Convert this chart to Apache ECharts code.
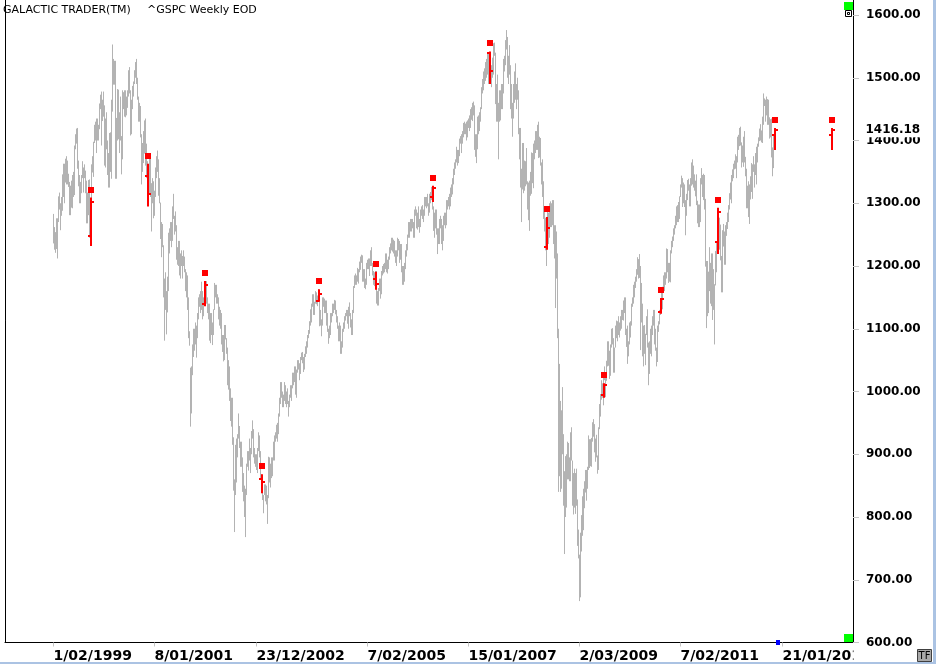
<!DOCTYPE html>
<html><head><meta charset="utf-8">
<script src="https://cdn.jsdelivr.net/npm/echarts@6/dist/echarts.min.js"></script>
<style>html,body{margin:0;padding:0;background:#fff;}#c{width:936px;height:664px;}</style>
</head><body><div id="c"></div>
<script>
// ---- axis / categories ----
const firstBarDate = '1/02/1999';
const weekCount = 848;                // weekly slots on the axis (Mondays)
const axisStart = [1998, 2, 2];       // Monday 2 March 1998
const tickLabels = ['1/02/1999','8/01/2001','23/12/2002','7/02/2005','15/01/2007','2/03/2009','7/02/2011','21/01/2013'];
const yTicks = [600,700,800,900,1000,1100,1200,1300,1400,1500,1600];
const lastClose = 1416.18;

// ---- weekly [low, high] of ^GSPC ----
const w1999 = [[1236,1283],[1226,1262],[1221,1254],[1227,1276],[1212,1276],[1270,1311],[1290,1317],[1257,1300],[1280,1310],[1288,1346],[1310,1363],[1300,1363],[1333,1371],[1330,1375],[1330,1368],[1326,1347],[1281,1334],[1281,1328],[1293,1336],[1292,1345],[1310,1350],[1313,1392],[1386,1410],[1395,1419],[1355,1420],[1327,1368],[1300,1345],[1300,1334],[1316,1345],[1340,1367],[1317,1357],[1340,1362],[1316,1352],[1268,1336],[1268,1317],[1281,1337],[1245,1338],[1233,1306],[1280,1362],[1349,1375],[1342,1398],[1396,1425],[1400,1430],[1380,1435],[1400,1435],[1400,1425],[1418,1459],[1450,1473]];
const w2000 = [[1392,1478],[1431,1465],[1438,1478],[1360,1456],[1357,1435],[1386,1445],[1345,1400],[1325,1380],[1325,1412],[1350,1413],[1339,1465],[1446,1553],[1489,1530],[1489,1527],[1339,1527],[1339,1436],[1400,1482],[1402,1481],[1380,1445],[1400,1470],[1346,1407],[1370,1480],[1450,1477],[1438,1480],[1437,1480],[1440,1470],[1452,1480],[1470,1512],[1475,1517],[1408,1480],[1410,1465],[1450,1487],[1470,1494],[1490,1512],[1500,1525],[1490,1530],[1465,1500],[1430,1470],[1430,1460],[1405,1455],[1330,1410],[1350,1396],[1364,1415],[1379,1432],[1360,1435],[1340,1395],[1315,1367],[1305,1362],[1315,1376],[1310,1380],[1255,1332],[1300,1340]];
const w2001 = [[1276,1335],[1280,1320],[1310,1357],[1340,1375],[1350,1384],[1312,1370],[1300,1340],[1243,1301],[1214,1270],[1230,1267],[1150,1233],[1081,1180],[1130,1190],[1091,1160],[1126,1183],[1160,1253],[1220,1260],[1240,1270],[1230,1270],[1240,1295],[1275,1315],[1250,1280],[1255,1287],[1210,1265],[1202,1230],[1200,1240],[1185,1240],[1180,1220],[1200,1225],[1180,1216],[1200,1225],[1190,1215],[1160,1195],[1150,1190],[1130,1185],[1085,1150],[1073,1096],[944,1038],[965,1040],[1026,1075],[1055,1100],[1065,1100],[1075,1110],[1054,1105],[1085,1125],[1115,1150],[1135,1155],[1125,1160],[1130,1175],[1115,1160],[1120,1150],[1140,1165],[1145,1176]];
const w2002 = [[1140,1176],[1125,1150],[1115,1140],[1081,1140],[1077,1125],[1090,1125],[1074,1110],[1090,1131],[1130,1173],[1150,1170],[1140,1170],[1140,1155],[1115,1150],[1105,1135],[1100,1130],[1075,1125],[1063,1090],[1048,1090],[1050,1106],[1083,1106],[1060,1085],[1010,1070],[1003,1050],[985,1040],[953,1005],[944,990],[915,990],[842,927],[776,860],[835,915],[855,925],[895,932],[925,965],[910,945],[880,920],[880,920],[840,895],[825,870],[800,850],[768,845],[835,885],[880,905],[874,905],[890,925],[870,910],[900,937],[925,954],[895,940],[885,910],[880,900],[875,900],[870,910]];
const w2003 = [[905,935],[895,930],[860,905],[838,868],[827,865],[806,835],[835,852],[825,852],[820,850],[789,835],[830,896],[855,895],[847,885],[862,895],[865,895],[890,920],[890,930],[920,935],[925,947],[920,950],[932,965],[960,990],[980,1015],[990,1015],[975,1000],[975,995],[985,1015],[980,1010],[975,1000],[980,1005],[960,985],[975,995],[990,1010],[985,1010],[1005,1030],[1010,1030],[1015,1040],[995,1040],[990,1035],[1030,1050],[1035,1050],[1018,1045],[1028,1055],[1050,1062],[1045,1063],[1031,1055],[1035,1060],[1055,1072],[1060,1080],[1070,1090],[1085,1098],[1092,1112]];
const w2004 = [[1105,1131],[1110,1140],[1135,1155],[1122,1155],[1122,1143],[1140,1160],[1139,1158],[1136,1153],[1145,1163],[1104,1158],[1105,1130],[1088,1115],[1105,1150],[1135,1150],[1125,1148],[1125,1145],[1105,1145],[1095,1125],[1076,1100],[1085,1105],[1090,1125],[1110,1125],[1120,1140],[1125,1140],[1130,1146],[1123,1145],[1110,1130],[1100,1120],[1080,1105],[1080,1110],[1060,1105],[1060,1080],[1070,1100],[1095,1110],[1100,1120],[1113,1125],[1120,1130],[1108,1130],[1100,1135],[1120,1142],[1102,1125],[1090,1115],[1090,1130],[1125,1168],[1165,1185],[1170,1188],[1170,1185],[1175,1197],[1172,1195],[1190,1207],[1194,1215],[1205,1218]];
const w2005 = [[1175,1217],[1175,1195],[1165,1195],[1163,1180],[1170,1205],[1195,1210],[1195,1212],[1184,1212],[1200,1225],[1200,1230],[1185,1205],[1170,1192],[1168,1190],[1175,1192],[1140,1192],[1137,1160],[1137,1165],[1160,1180],[1148,1180],[1155,1192],[1185,1200],[1188,1203],[1190,1205],[1195,1220],[1190,1220],[1188,1210],[1195,1215],[1210,1230],[1220,1236],[1225,1245],[1223,1245],[1220,1242],[1215,1240],[1205,1225],[1200,1225],[1215,1245],[1225,1243],[1205,1240],[1210,1235],[1190,1235],[1170,1200],[1170,1200],[1175,1205],[1195,1225],[1215,1235],[1225,1250],[1245,1270],[1245,1270],[1255,1275],[1255,1275],[1260,1275],[1245,1270]];
const w2006 = [[1245,1290],[1280,1295],[1260,1290],[1258,1285],[1262,1295],[1253,1275],[1262,1290],[1280,1295],[1275,1297],[1270,1290],[1280,1310],[1295,1310],[1292,1310],[1295,1315],[1280,1300],[1285,1315],[1300,1318],[1305,1326],[1290,1326],[1256,1295],[1245,1285],[1260,1290],[1250,1290],[1219,1260],[1235,1260],[1235,1275],[1260,1280],[1235,1275],[1225,1265],[1240,1280],[1265,1285],[1260,1285],[1265,1305],[1290,1305],[1295,1310],[1290,1315],[1295,1325],[1310,1330],[1314,1340],[1330,1355],[1345,1365],[1355,1370],[1365,1390],[1360,1385],[1364,1385],[1375,1403],[1395,1407],[1380,1410],[1395,1415],[1405,1428],[1410,1430],[1410,1427]];
const w2007 = [[1400,1430],[1405,1432],[1420,1435],[1415,1440],[1420,1450],[1433,1453],[1431,1460],[1440,1462],[1385,1456],[1374,1410],[1364,1410],[1386,1438],[1410,1440],[1415,1445],[1430,1453],[1450,1485],[1475,1498],[1480,1510],[1490,1515],[1495,1525],[1500,1530],[1505,1540],[1490,1540],[1490,1535],[1500,1540],[1485,1520],[1500,1532],[1505,1555],[1535,1556],[1458,1540],[1430,1490],[1430,1505],[1370,1460],[1430,1480],[1432,1480],[1450,1490],[1450,1490],[1475,1530],[1510,1535],[1520,1560],[1545,1576],[1500,1565],[1490,1535],[1505,1552],[1450,1520],[1435,1490],[1406,1460],[1435,1490],[1460,1510],[1465,1523],[1450,1490],[1465,1500],[1410,1480]];
const w2008 = [[1370,1420],[1325,1420],[1270,1355],[1322,1396],[1316,1396],[1320,1368],[1327,1367],[1330,1388],[1290,1335],[1273,1333],[1256,1336],[1312,1350],[1315,1381],[1332,1380],[1324,1395],[1370,1400],[1380,1415],[1385,1415],[1385,1425],[1372,1430],[1373,1406],[1360,1404],[1330,1365],[1310,1370],[1275,1335],[1255,1292],[1225,1277],[1200,1263],[1235,1290],[1235,1285],[1245,1300],[1262,1303],[1262,1300],[1265,1305],[1235,1305],[1212,1265],[1133,1265],[1180,1255],[1085,1220],[840,1100],[865,1044],[840,985],[845,970],[900,1007],[818,932],[741,873],[800,897],[815,900],[860,920],[860,918],[857,895],[857,935]];
const w2009 = [[890,943],[818,890],[804,870],[815,877],[805,870],[818,877],[754,828],[734,780],[666,740],[672,775],[745,803],[770,833],[779,845],[814,857],[839,875],[826,875],[845,880],[875,930],[878,924],[881,924],[880,926],[920,951],[928,956],[903,948],[888,925],[895,931],[869,898],[875,943],[940,980],[960,996],[987,1018],[990,1013],[978,1027],[1018,1040],[991,1030],[1017,1049],[1040,1080],[1041,1080],[1020,1065],[1025,1075],[1070,1100],[1075,1101],[1030,1085],[1030,1070],[1070,1105],[1085,1113],[1080,1112],[1090,1120],[1086,1110],[1097,1120],[1100,1130],[1114,1130]];
const w2010 = [[1113,1145],[1125,1150],[1090,1150],[1071,1100],[1044,1105],[1056,1080],[1075,1110],[1086,1112],[1105,1140],[1135,1150],[1140,1170],[1150,1175],[1165,1183],[1175,1195],[1186,1214],[1180,1211],[1181,1219],[1066,1200],[1110,1173],[1056,1140],[1040,1105],[1060,1106],[1042,1092],[1090,1120],[1070,1131],[1010,1078],[1028,1080],[1060,1100],[1056,1105],[1090,1120],[1105,1130],[1075,1130],[1065,1100],[1040,1070],[1047,1105],[1095,1112],[1107,1130],[1122,1148],[1131,1160],[1131,1167],[1160,1185],[1160,1190],[1170,1190],[1180,1228],[1190,1227],[1173,1205],[1175,1205],[1174,1225],[1220,1240],[1230,1247],[1240,1260],[1250,1265]];
const w2011 = [[1260,1280],[1265,1295],[1270,1297],[1270,1302],[1275,1311],[1310,1330],[1325,1344],[1294,1340],[1300,1333],[1294,1330],[1249,1305],[1280,1315],[1305,1337],[1320,1339],[1295,1330],[1295,1340],[1328,1365],[1330,1370],[1325,1360],[1320,1346],[1311,1336],[1297,1346],[1268,1304],[1262,1298],[1262,1298],[1270,1340],[1330,1356],[1310,1345],[1305,1347],[1290,1345],[1199,1307],[1101,1208],[1120,1208],[1125,1191],[1160,1230],[1140,1205],[1136,1220],[1114,1220],[1130,1195],[1075,1171],[1169,1224],[1190,1239],[1221,1292],[1220,1285],[1226,1277],[1209,1266],[1158,1216],[1158,1257],[1231,1267],[1202,1255],[1202,1265],[1248,1270]];
const w2012 = [[1259,1285],[1270,1297],[1290,1316],[1306,1333],[1300,1345],[1335,1354],[1340,1363],[1354,1368],[1355,1378],[1340,1375],[1365,1406],[1385,1409],[1391,1420],[1392,1422],[1357,1397],[1365,1392],[1358,1406],[1365,1415],[1343,1374],[1292,1355],[1292,1328],[1278,1335],[1267,1330],[1306,1343],[1318,1364],[1307,1362],[1350,1375],[1325,1362],[1345,1380],[1330,1390],[1365,1395],[1390,1405],[1399,1419],[1400,1426],[1397,1416],[1396,1438],[1425,1475],[1455,1467],[1430,1465],[1440,1470],[1425,1466],[1425,1465],[1403,1437],[1405,1434],[1373,1435],[1343,1389],[1356,1410],[1385,1420]];

// ---- highlighted (red) weekly bars ----
const redDates = ['18/10/1999','20/11/2000','24/12/2001','27/01/2003','1/03/2004','4/04/2005','8/05/2006','11/06/2007','14/07/2008','17/08/2009','20/09/2010','24/10/2011','26/11/2012','30/12/2013'];
const redOpen  = [1248,1343,1140,861,1145,1180,1310,1539,1230,995,1126,1238,1409,1409];
const redHigh  = [1309,1363,1176,868,1163,1191,1328,1542,1278,1013,1149,1293,1420,1420];
const redLow   = [1232,1295,1136,838,1143,1162,1302,1490,1226,990,1124,1219,1385,1385];
const redClose = [1302,1315,1170,855,1156,1172,1325,1510,1260,1010,1148,1286,1417,1417];

// ---- build ----
const categories = [];
const t0 = Date.UTC(axisStart[0], axisStart[1], axisStart[2]);
for (let k = 0; k < weekCount; k++) {
  const d = new Date(t0 + k * 7 * 86400000);
  categories.push(d.getUTCDate() + '/' + String(d.getUTCMonth() + 1).padStart(2, '0') + '/' + d.getUTCFullYear());
}
const weeks = [].concat(w1999, w2000, w2001, w2002, w2003, w2004, w2005, w2006, w2007, w2008, w2009, w2010, w2011, w2012);
const first = categories.indexOf(firstBarDate);
const grayData = weeks.map((p, i) => [first + i, p[0], p[1]]);
const redData = redDates.map((d, j) => [categories.indexOf(d), redOpen[j], redHigh[j], redLow[j], redClose[j]]);
const isTick = (idx, val) => tickLabels.indexOf(val) >= 0;

function renderRange(params, api) {
  const lo = api.coord([api.value(0), api.value(1)]);
  const hi = api.coord([api.value(0), api.value(2)]);
  const x = Math.floor(lo[0]) + 0.5;
  return { type: 'line', shape: { x1: x, y1: lo[1], x2: x, y2: hi[1] },
           style: { stroke: '#b3b3b3', lineWidth: 1 } };
}
function renderRed(params, api) {
  const k = api.value(0);
  const pO = api.coord([k, api.value(1)]), pH = api.coord([k, api.value(2)]);
  const pL = api.coord([k, api.value(3)]), pC = api.coord([k, api.value(4)]);
  const x = Math.round(pH[0]);
  const red = '#ff0000';
  const yo = Math.round(pO[1]), yc = Math.round(pC[1]), yh = Math.round(pH[1]);
  return { type: 'group', children: [
    { type: 'line', shape: { x1: x, y1: pH[1], x2: x, y2: pL[1] }, style: { stroke: red, lineWidth: 2 } },
    { type: 'line', shape: { x1: x - 3, y1: yo, x2: x, y2: yo }, style: { stroke: red, lineWidth: 2 } },
    { type: 'line', shape: { x1: x, y1: yc, x2: x + 3, y2: yc }, style: { stroke: red, lineWidth: 2 } },
    { type: 'rect', shape: { x: x - 3, y: yh - 11, width: 6, height: 6 }, style: { fill: red } }
  ]};
}
function renderLastLabel(params, api) {
  const p = api.coord([api.value(0), api.value(1)]);
  return { type: 'text', x: p[0] + 11, y: p[1],
    style: { text: api.value(1).toFixed(2), font: 'bold 12px "DejaVu Sans"', fill: '#000',
             align: 'left', verticalAlign: 'middle', backgroundColor: '#ffffff', padding: [1, 2, 1, 2] } };
}

const chart = echarts.init(document.getElementById('c'), null, { renderer: 'canvas' });
const labelFont = { fontFamily: 'DejaVu Sans', fontWeight: 'bold', color: '#000' };
chart.setOption({
  animation: false,
  backgroundColor: '#ffffff',
  title: [
    { text: 'GALACTIC TRADER(TM)', left: 3, top: 5, padding: 0,
      textStyle: { fontFamily: 'DejaVu Sans', fontSize: 11, fontWeight: 'normal', color: '#000' } },
    { text: '^GSPC Weekly EOD', left: 147, top: 5, padding: 0,
      textStyle: { fontFamily: 'DejaVu Sans', fontSize: 11, fontWeight: 'normal', color: '#000' } }
  ],
  grid: { left: 5, right: 83, top: -47.75, bottom: 21.5, containLabel: false, outerBoundsMode: 'none' },
  xAxis: {
    type: 'category', data: categories, boundaryGap: true,
    axisLine: { lineStyle: { color: '#000', width: 1 } },
    axisTick: { show: true, alignWithLabel: true, interval: isTick, length: 4, lineStyle: { color: '#c4c4c4' } },
    axisLabel: Object.assign({ interval: isTick, align: 'left', margin: 7, fontSize: 14 }, labelFont),
    splitLine: { show: false }
  },
  yAxis: [
    { type: 'value', position: 'right', min: 600, max: 1700, interval: 100,
      axisLine: { show: true, lineStyle: { color: '#000', width: 1 } },
      axisTick: { show: true, length: 6, lineStyle: { color: '#c4c4c4' } },
      axisLabel: Object.assign({ margin: 13, fontSize: 12,
        formatter: v => (yTicks.indexOf(v) >= 0 ? v.toFixed(2) : '') }, labelFont),
      splitLine: { show: false } },
    { type: 'value', position: 'left', min: 600, max: 1700, interval: 100,
      axisLine: { show: true, lineStyle: { color: '#000', width: 1 } },
      axisTick: { show: false }, axisLabel: { show: false }, splitLine: { show: false } }
  ],
  series: [
    { type: 'custom', name: 'GSPC', xAxisIndex: 0, yAxisIndex: 0, data: grayData,
      encode: { x: 0, y: [1, 2] }, renderItem: renderRange, silent: true, z: 2 },
    { type: 'custom', name: 'marks', xAxisIndex: 0, yAxisIndex: 0, data: redData,
      encode: { x: 0, y: [1, 2, 3, 4] }, renderItem: renderRed, silent: true, z: 3 },
    { type: 'custom', name: 'last', xAxisIndex: 0, yAxisIndex: 0, silent: true, z: 20, clip: false,
      data: [[weekCount - 1, lastClose]], encode: { x: 0, y: 1 }, renderItem: renderLastLabel }
  ],
  graphic: [
    { type: 'rect', z: 100, shape: { x: 853.5, y: 648, width: 83, height: 16 }, style: { fill: '#ffffff' } },
    { type: 'rect', z: 101, shape: { x: 844, y: 2, width: 9, height: 8 }, style: { fill: '#00ff00' } },
    { type: 'rect', z: 101, shape: { x: 845.5, y: 10.5, width: 6, height: 6 }, style: { fill: '#ffffff', stroke: '#000', lineWidth: 1 } },
    { type: 'rect', z: 101, shape: { x: 847.5, y: 12.5, width: 2, height: 2 }, style: { fill: '#ffffff', stroke: '#000', lineWidth: 1 } },
    { type: 'rect', z: 101, shape: { x: 844, y: 634, width: 9, height: 8 }, style: { fill: '#00ff00' } },
    { type: 'rect', z: 101, shape: { x: 776, y: 640, width: 4, height: 5 }, style: { fill: '#0000ff' } },
    { type: 'rect', z: 101, shape: { x: 917.5, y: 649.5, width: 14, height: 12 }, style: { fill: '#a8a8a8', stroke: '#404040', lineWidth: 1 } },
    { type: 'text', z: 102, x: 924.5, y: 656, style: { text: 'TF', font: '10px "DejaVu Sans"', fill: '#000', align: 'center', verticalAlign: 'middle' } },
    { type: 'rect', z: 101, shape: { x: 933, y: 0, width: 3, height: 664 }, style: { fill: '#abc3e3' } },
    { type: 'rect', z: 101, shape: { x: 0, y: 662, width: 936, height: 2 }, style: { fill: '#abc3e3' } }
  ]
});
</script>
</body></html>
